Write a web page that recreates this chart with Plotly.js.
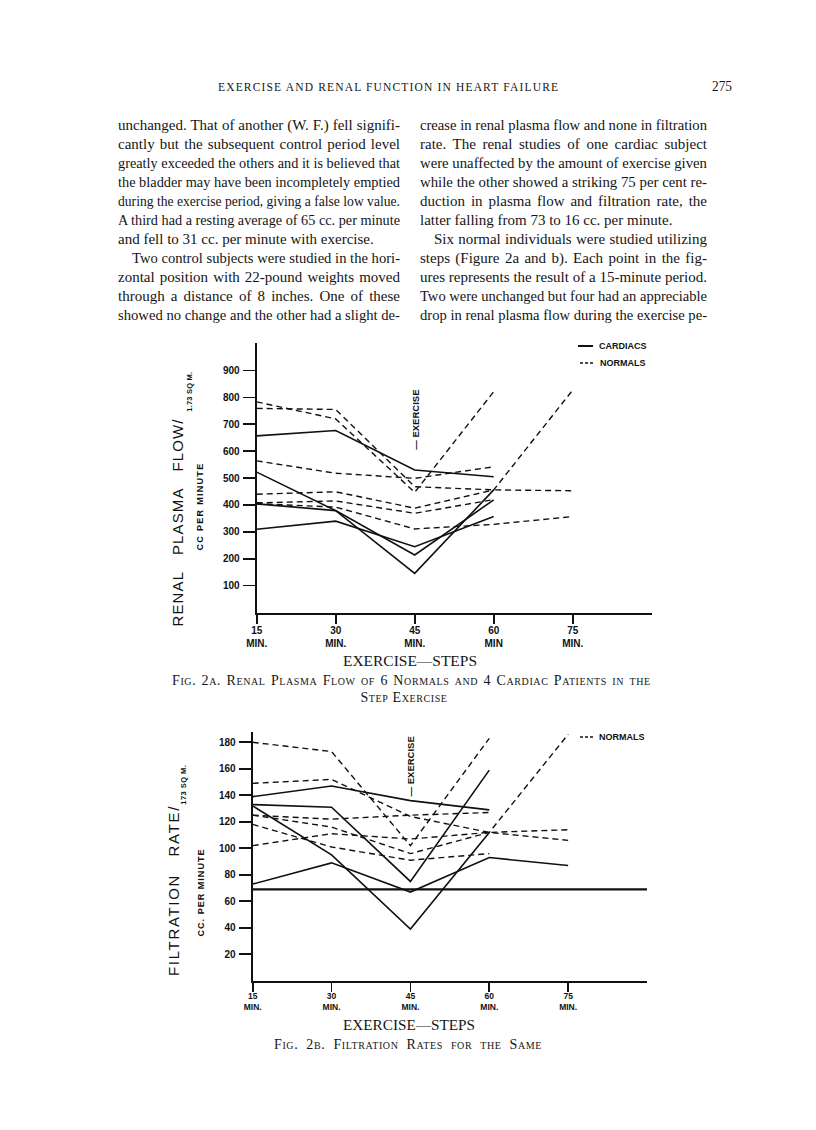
<!DOCTYPE html>
<html>
<head>
<meta charset="utf-8">
<script src="https://cdn.plot.ly/plotly-3.0.1.min.js"></script>
<style>
body { margin: 0; background: #fff; }
#page { position: relative; width: 816px; height: 1130px; overflow: hidden; background: #fff; }
#plot { position: absolute; left: 0; top: 0; width: 816px; height: 1130px; }
.ln { position: absolute; white-space: nowrap; font-family: "Liberation Serif", "DejaVu Serif", serif;
      font-size: 15px; line-height: 15px; color: #151515; transform-origin: 0 50%; }
.sc { font-variant: small-caps; letter-spacing: 0.6px; }
.vt { position: absolute; white-space: nowrap; font-family: "Liberation Sans", Arial, sans-serif;
      color: #111; line-height: 1; }
</style>
</head>
<body>
<div id="page"><div id="plot"></div></div>
<script>
// time points, minutes
var minutes = [15, 30, 45, 60, 75];
var xRange = [15, 90];
var tickText1 = ["15<br>MIN.", "30<br>MIN.", "45<br>MIN.", "60<br>MIN", "75<br>MIN."];
var tickText2 = ["15<br>MIN.", "30<br>MIN.", "45<br>MIN.", "60<br>MIN.", "75<br>MIN."];
var exerciseAt = 45;

// Fig 2a - renal plasma flow, cc per minute per 1.73 sq m
var flowTicks = [100, 200, 300, 400, 500, 600, 700, 800, 900];
var flowRange = [0, 1002];
var flowCardiac = [
  [657, 677, 530, 505],
  [522, 379, 146, 456],
  [404, 379, 214, 419],
  [310, 340, 245, 357]
];
var flowNormal = [
  [783, 720, 447, 821],
  [759, 755, 468, 456, 453],
  [564, 518, 499, 542],
  [440, 449, 388, 456, 827],
  [408, 415, 369, 420],
  [405, 392, 311, 328, 357]
];

// Fig 2b - filtration rate, cc per minute per 1.73 sq m
var filtTicks = [20, 40, 60, 80, 100, 120, 140, 160, 180];
var filtRange = [0, 188];
var filtCardiac = [
  [139, 147, 136, 129],
  [133, 131, 75, 159],
  [132, 95, 39, 112],
  [73, 89, 67, 93, 87]
];
var filtNormal = [
  [180, 173, 102, 183],
  [149, 152, 124, 112, 106],
  [125, 122, 125, 127],
  [125, 116, 96, 112, 186],
  [118, 101, 91, 96],
  [102, 111, 107, 112, 114]
];
var filtLevel = 69;

var W = 816, H = 1130;
function fx(p) { return p / W; }
function fy(p) { return 1 - p / H; }

var traces = [];
function addSeries(list, xa, ya, dashed) {
  list.forEach(function (vals) {
    traces.push({
      type: "scatter", mode: "lines", xaxis: xa, yaxis: ya,
      x: minutes.slice(0, vals.length), y: vals,
      line: { color: "#111", width: dashed ? 1.4 : 1.6, dash: dashed ? "6px,4px" : "solid" },
      hoverinfo: "skip", showlegend: false
    });
  });
}
addSeries(flowCardiac, "x", "y", false);
addSeries(flowNormal, "x", "y", true);
addSeries(filtCardiac, "x2", "y2", false);
addSeries(filtNormal, "x2", "y2", true);
traces.push({
  type: "scatter", mode: "lines", xaxis: "x2", yaxis: "y2",
  x: xRange, y: [filtLevel, filtLevel],
  line: { color: "#111", width: 2.2 }, hoverinfo: "skip", showlegend: false
});

var sans = "Liberation Sans, Arial, sans-serif";
function yAx(domain, range, ticks, anchor) {
  return {
    domain: domain, range: range, anchor: anchor, tickmode: "array", tickvals: ticks,
    ticks: "outside", ticklen: 12, tickwidth: 1.6, tickcolor: "#111", ticklabelstandoff: 1,
    showline: true, linewidth: 2, linecolor: "#111", showgrid: false, zeroline: false,
    tickfont: { family: sans, size: 10, color: "#111", weight: "bold" }, fixedrange: true
  };
}
function xAx(domain, text, anchor, size, standoff) {
  return {
    domain: domain, range: xRange, anchor: anchor, tickmode: "array", tickvals: minutes, ticktext: text,
    ticks: "outside", ticklen: 9, tickwidth: 1.6, tickcolor: "#111", ticklabelstandoff: standoff,
    showline: true, linewidth: 2, linecolor: "#111", showgrid: false, zeroline: false,
    tickfont: { family: sans, size: size, color: "#111", weight: "bold" }, fixedrange: true
  };
}

function note(text, x, y, size, angle, opts) {
  var a = {
    text: text, xref: "paper", yref: "paper", x: fx(x), y: fy(y), showarrow: false,
    textangle: angle || 0, xanchor: "center", yanchor: "middle",
    font: { family: sans, size: size, color: "#111" }
  };
  for (var k in opts) a[k] = opts[k];
  return a;
}
var nb = "\u00a0";

var annotations = [
  note("<b>—" + nb + "EXERCISE</b>", 0, 420, 9.5, -90, { xref: "x", x: exerciseAt }),
  note("<b>CARDIACS</b>", 597, 346, 9, 0, { xanchor: "left" }),
  note("<b>NORMALS</b>", 598, 363, 9, 0, { xanchor: "left" }),
  note("<b>—" + nb + "EXERCISE</b>", 0, 766, 9.5, -90, { xref: "x2", x: exerciseAt }),
  note("<b>NORMALS</b>", 597, 737, 9, 0, { xanchor: "left" })
];

var shapes = [
  { type: "line", xref: "paper", yref: "paper", x0: fx(578), x1: fx(593), y0: fy(346), y1: fy(346), line: { color: "#111", width: 2 } },
  { type: "line", xref: "paper", yref: "paper", x0: fx(580), x1: fx(594), y0: fy(363), y1: fy(363), line: { color: "#111", width: 1.4, dash: "3px,2px" } },
  { type: "line", xref: "paper", yref: "paper", x0: fx(580), x1: fx(594), y0: fy(737), y1: fy(737), line: { color: "#111", width: 1.4, dash: "3px,2px" } }
];

var layout = {
  width: W, height: H, margin: { l: 0, r: 0, t: 0, b: 0 },
  paper_bgcolor: "rgba(0,0,0,0)", plot_bgcolor: "rgba(0,0,0,0)", showlegend: false,
  xaxis: xAx([fx(256.7), fx(651.7)], tickText1, "y", 10, -2),
  yaxis: yAx([fy(612.6), fy(343)], flowRange, flowTicks, "x"),
  xaxis2: xAx([fx(252.7), fx(647)], tickText2, "y2", 8.5, -3),
  yaxis2: yAx([fy(980.8), fy(731.7)], filtRange, filtTicks, "x2"),
  annotations: annotations, shapes: shapes
};

Plotly.newPlot("plot", traces, layout, { staticPlot: true, displayModeBar: false });

// ---- page text ----
var page = document.getElementById("page");
function line(txt, left, y, width, mode, cls, size) {
  var d = document.createElement("div");
  d.className = "ln" + (cls ? " " + cls : "");
  if (size) { d.style.fontSize = size + "px"; }
  d.textContent = txt;
  d.style.left = left + "px";
  d.style.top = (y - 9) + "px";
  page.appendChild(d);
  var w = d.getBoundingClientRect().width;
  if (mode === "justify") {
    var n = (txt.match(/ /g) || []).length;
    var extra = width - w;
    if (extra >= 0 && n > 0) d.style.wordSpacing = (extra / n) + "px";
    else d.style.transform = "scaleX(" + (width / w) + ")";
  } else if (mode === "spread") {
    var base = parseFloat(getComputedStyle(d).letterSpacing) || 0;
    d.style.letterSpacing = (base + (width - w) / (txt.length - 1)) + "px";
  } else if (mode === "center") {
    var s = Math.min(1, width / w);
    if (s < 1) d.style.transform = "scaleX(" + s + ")";
    d.style.left = (left - w * s / 2) + "px";
  } else if (w > width) {
    d.style.transform = "scaleX(" + (width / w) + ")";
  }
  return d;
}

// rotated axis titles, fitted between two page y positions
function vtext(txt, cx, yBottom, yTop, size, bold) {
  var d = document.createElement("div");
  d.className = "vt";
  d.style.fontSize = size + "px";
  if (bold) d.style.fontWeight = "bold";
  d.textContent = txt;
  page.appendChild(d);
  var r = d.getBoundingClientRect();
  var len = yBottom - yTop;
  d.style.letterSpacing = Math.max(0, (len - r.width) / txt.length) + "px";
  r = d.getBoundingClientRect();
  d.style.left = (cx - r.width / 2) + "px";
  d.style.top = ((yBottom + yTop) / 2 - r.height / 2) + "px";
  d.style.transform = "rotate(-90deg)";
  return d;
}

var leftCol = [
  ["unchanged. That of another (W. F.) fell signifi-", 0, "justify"],
  ["cantly but the subsequent control period level", 0, "justify"],
  ["greatly exceeded the others and it is believed that", 0, "justify"],
  ["the bladder may have been incompletely emptied", 0, "justify"],
  ["during the exercise period, giving a false low value.", 0, "justify"],
  ["A third had a resting average of 65 cc. per minute", 0, "justify"],
  ["and fell to 31 cc. per minute with exercise.", 0, "last"],
  ["Two control subjects were studied in the hori-", 14, "justify"],
  ["zontal position with 22-pound weights moved", 0, "justify"],
  ["through a distance of 8 inches. One of these", 0, "justify"],
  ["showed no change and the other had a slight de-", 0, "justify"]
];
var rightCol = [
  ["crease in renal plasma flow and none in filtration", 0, "justify"],
  ["rate. The renal studies of one cardiac subject", 0, "justify"],
  ["were unaffected by the amount of exercise given", 0, "justify"],
  ["while the other showed a striking 75 per cent re-", 0, "justify"],
  ["duction in plasma flow and filtration rate, the", 0, "justify"],
  ["latter falling from 73 to 16 cc. per minute.", 0, "last"],
  ["Six normal individuals were studied utilizing", 14, "justify"],
  ["steps (Figure 2a and b). Each point in the fig-", 0, "justify"],
  ["ures represents the result of a 15-minute period.", 0, "justify"],
  ["Two were unchanged but four had an appreciable", 0, "justify"],
  ["drop in renal plasma flow during the exercise pe-", 0, "justify"]
];
var lineY0 = 127, lineStep = 19;
leftCol.forEach(function (r, i) {
  line(r[0], 118 + r[1], lineY0 + i * lineStep, 282 - r[1], r[2]);
});
rightCol.forEach(function (r, i) {
  line(r[0], 420 + r[1], lineY0 + i * lineStep, 287 - r[1], r[2]);
});

// running head and page number
line("EXERCISE AND RENAL FUNCTION IN HEART FAILURE", 218, 89, 340, "spread", null, 11.5);
line("275", 712, 88, 20, "last");

// axis titles
vtext("RENAL\u00a0\u00a0\u00a0PLASMA\u00a0\u00a0\u00a0FLOW/", 177, 626, 418, 15, false);
vtext("1.73 SQ M.", 190, 412, 372, 7.5, true);
vtext("CC PER MINUTE", 200, 550, 462, 9, true);
vtext("FILTRATION\u00a0\u00a0\u00a0RATE/", 173, 976, 805, 15, false);
vtext("173 SQ M.", 184, 805, 765, 7.5, true);
vtext("CC. PER MINUTE", 201, 936, 848, 9, true);

// captions
line("EXERCISE\u2014STEPS", 410, 662, 134, "center", null, 15.5);
line("Fig. 2a.  Renal Plasma Flow of 6 Normals and 4 Cardiac Patients in the", 172, 682, 480, "justify", "sc", 14);
line("Step Exercise", 404, 699, 110, "center", "sc", 14);
line("EXERCISE\u2014STEPS", 409, 1026, 132, "center", null, 15.5);
line("Fig. 2b.  Filtration Rates for the Same", 274, 1046, 272, "justify", "sc", 14);
</script>
</body>
</html>
